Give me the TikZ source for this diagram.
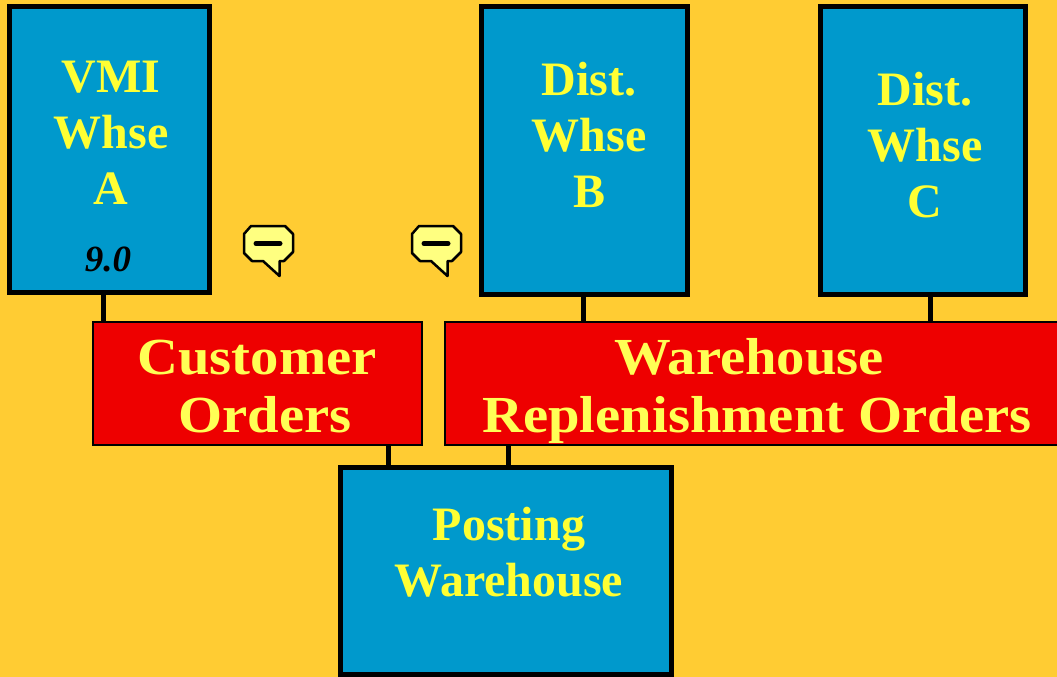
\documentclass[tikz,border=0pt]{standalone}
\usepackage{fontspec}
\setmainfont{Liberation Serif}
\newfontfamily\widefont[FakeStretch=1.09]{Liberation Serif}
\usetikzlibrary{calc}
\definecolor{bgyellow}{HTML}{FFCC33}
\definecolor{whseblue}{HTML}{0099CC}
\definecolor{orderred}{HTML}{EE0000}
\definecolor{textyellow}{HTML}{FFFF33}
\definecolor{ordertextyellow}{HTML}{FFFF55}
\definecolor{notefill}{HTML}{FFFF80}
\tikzset{
  whse/.style={draw=black, line width=5pt, fill=whseblue, outer sep=0pt, inner sep=0pt},
  orders/.style={draw=black, line width=2.5pt, fill=orderred, outer sep=0pt, inner sep=0pt},
  link/.style={black, line width=5pt},
  whsetext/.style={text=textyellow, align=center, inner sep=0pt, font=\fontsize{48}{56}\selectfont\bfseries},
  ordertext/.style={text=ordertextyellow, align=center, inner sep=0pt, font=\fontsize{52}{58}\selectfont\widefont\bfseries},
  note/.pic={
    \draw[fill=notefill, line width=2.5pt, line join=round] (-20,-18) -- (14,-18) -- (22,-10) -- (22,8) -- (13,17)
      -- (8.5,17) -- (8.5,32) -- (-8,17) -- (-19,17) -- (-27,9) -- (-27,-10) -- cycle;
    \draw[line width=5pt, line cap=round] (-15,-0.5) -- (9,-0.5);
  }
}
\begin{document}
\begin{tikzpicture}[x=1pt, y=-1pt]
  \useasboundingbox (0,0) rectangle (1057,677);
  \clip (0,0) rectangle (1057,677);
  \fill[bgyellow] (0,0) rectangle (1057,677);

  % warehouses
  \node[whse, minimum width=200pt, minimum height=286pt] (vmia) at (109.5,149.5) {};
  \node[whse, minimum width=206pt, minimum height=288pt] (distb) at (584.5,150.5) {};
  \node[whse, minimum width=205pt, minimum height=288pt] (distc) at (923,150.5) {};
  \node[whse, minimum width=331pt, minimum height=207pt] (posting) at (505.5,571) {};

  % order boxes
  \node[orders, minimum width=329pt, minimum height=123pt] (custorders) at (257.5,383.5) {};
  \node[orders, minimum width=630pt, minimum height=123pt] (replorders) at (760,383.5) {};

  % links
  \draw[link] ([xshift=-6.5pt]vmia.south) -- ([xshift=-6.5pt]vmia.south |- custorders.north);
  \draw[link] ([xshift=-1.5pt]distb.south) -- ([xshift=-1.5pt]distb.south |- replorders.north);
  \draw[link] ([xshift=7pt]distc.south) -- ([xshift=7pt]distc.south |- replorders.north);
  \draw[link] ([xshift=-117pt]posting.north) -- ([xshift=-117pt]posting.north |- custorders.south);
  \draw[link] ([xshift=3pt]posting.north) -- ([xshift=3pt]posting.north |- replorders.south);

  % labels
  \node[whsetext] (vmiatext) at (111,132.5) {VMI\\Whse\\A};
  \node[font=\fontsize{37}{37}\selectfont\bfseries\itshape, inner sep=0pt] (vmiavalue) at (108,259) {9.0};
  \node[whsetext] (distbtext) at (589,135) {Dist.\\Whse\\B};
  \node[whsetext] (distctext) at (925,145) {Dist.\\Whse\\C};
  \node[whsetext] (postingtext) at (509,552.5) {Posting\\Warehouse};
  \node[ordertext] (custtext) at (257,386.5) {Customer\\\hspace*{16pt}Orders};
  \node[ordertext] (repltext) at (757,391) {Warehouse\hspace*{16pt}\\Replenishment Orders};

  % comment marks
  \pic at (271,244) {note};
  \pic at (439,244) {note};
\end{tikzpicture}
\end{document}
